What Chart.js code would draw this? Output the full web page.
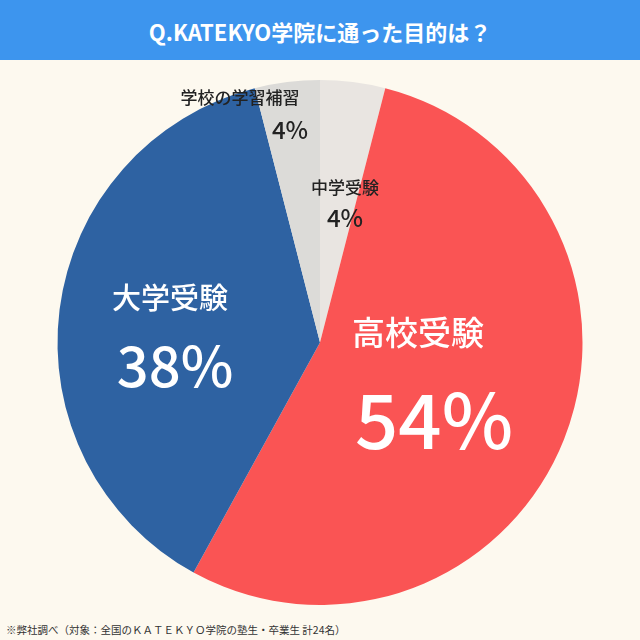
<!DOCTYPE html>
<html><head><meta charset="utf-8">
<script src="https://cdn.jsdelivr.net/npm/chart.js@4"></script>
<style>
html,body{margin:0;padding:0;background:#fdf9ef;}
#wrap{position:relative;width:640px;height:640px;background:#fdf9ef;font-family:"Noto Sans CJK JP",sans-serif;}
#hdr{position:absolute;left:0;top:0;width:640px;height:60px;background:#3d95ee;color:#fff;font-weight:bold;font-size:22px;text-align:center;line-height:62px;}
#cv{position:absolute;left:0;top:60px;}
#ft{position:absolute;left:6px;top:622px;font-size:10.5px;color:#333;}
</style></head><body>
<div id="wrap">
<div id="hdr">Q.KATEKYO学院に通った目的は？</div>
<canvas id="cv" width="640" height="560"></canvas>
<div id="ft">※弊社調べ（対象：全国のＫＡＴＥＫＹＯ学院の塾生・卒業生 計24名）</div>
</div>
<script>
const categories=["中学受験","高校受験","大学受験","学校の学習補習"];
const values=[4,54,38,4];
const colors=["#e9e5e1","#fa5454","#2e62a2","#dcdbd8"];
const labelPlugin={id:"lbl",afterDatasetsDraw(chart){
 const c=chart.ctx;c.save();c.textAlign="center";c.textBaseline="middle";
 const f='"Noto Sans CJK JP",sans-serif';
 const items=[
  [345,128,categories[0],"500 17px "+f,"#222"],[345,158,values[0]+"%","500 24px "+f,"#222"],
  [418,272,categories[1],"500 33px "+f,"#fff"],[434,360,values[1]+"%","500 76px "+f,"#fff"],
  [170,238,categories[2],"500 29px "+f,"#fff"],[175,306,values[2]+"%","500 56px "+f,"#fff"],
  [240,38,categories[3],"500 17px "+f,"#222"],[290,70,values[3]+"%","500 24px "+f,"#222"]];
 for(const [x,y,t,ft,col] of items){c.font=ft;c.fillStyle=col;c.fillText(t,x,y);}
 c.restore();}};
new Chart(document.getElementById("cv"),{type:"pie",
 data:{labels:categories,datasets:[{data:values,backgroundColor:colors,borderWidth:0}]},
 options:{responsive:false,animation:false,layout:{padding:{top:20,bottom:15}},
  plugins:{legend:{display:false},tooltip:{enabled:false}}},
 plugins:[labelPlugin]});
</script></body></html>
